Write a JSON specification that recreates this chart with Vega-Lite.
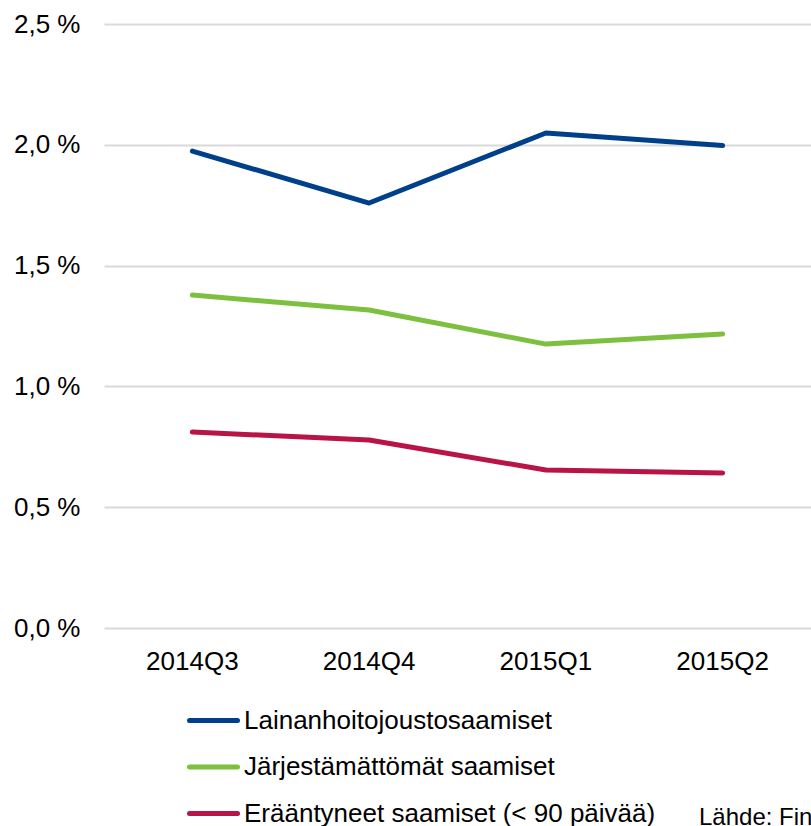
{
  "$schema": "https://vega.github.io/schema/vega-lite/v6.json",
  "width": 707,
  "height": 604,
  "autosize": "none",
  "padding": {"left": 104, "top": 24, "right": 0, "bottom": 198},
  "background": "white",
  "config": {
    "font": "Liberation Sans",
    "view": {"stroke": null}
  },
  "title": {
    "text": "Lähde: Finanssivalvonta",
    "orient": "bottom",
    "anchor": "start",
    "frame": "group",
    "dx": 595,
    "offset": -21,
    "fontSize": 24,
    "fontWeight": "normal",
    "color": "black",
    "font": "Liberation Sans"
  },
  "data": {
    "values": [
      {"quarter": "2014Q3", "series": "Lainanhoitojoustosaamiset", "value": 1.974},
      {"quarter": "2014Q4", "series": "Lainanhoitojoustosaamiset", "value": 1.759},
      {"quarter": "2015Q1", "series": "Lainanhoitojoustosaamiset", "value": 2.049},
      {"quarter": "2015Q2", "series": "Lainanhoitojoustosaamiset", "value": 1.997},
      {"quarter": "2014Q3", "series": "Järjestämättömät saamiset", "value": 1.378},
      {"quarter": "2014Q4", "series": "Järjestämättömät saamiset", "value": 1.316},
      {"quarter": "2015Q1", "series": "Järjestämättömät saamiset", "value": 1.175},
      {"quarter": "2015Q2", "series": "Järjestämättömät saamiset", "value": 1.217},
      {"quarter": "2014Q3", "series": "Erääntyneet saamiset (< 90 päivää)", "value": 0.811},
      {"quarter": "2014Q4", "series": "Erääntyneet saamiset (< 90 päivää)", "value": 0.778},
      {"quarter": "2015Q1", "series": "Erääntyneet saamiset (< 90 päivää)", "value": 0.654},
      {"quarter": "2015Q2", "series": "Erääntyneet saamiset (< 90 päivää)", "value": 0.642}
    ]
  },
  "mark": {"type": "line", "strokeWidth": 5, "strokeCap": "round", "strokeJoin": "round"},
  "encoding": {
    "x": {
      "field": "quarter",
      "type": "ordinal",
      "scale": {"type": "band", "paddingInner": 0, "paddingOuter": 0},
      "axis": {
        "title": null,
        "labelAngle": 0,
        "labelFontSize": 26,
        "labelColor": "black",
        "labelPadding": 20,
        "domain": false,
        "ticks": false,
        "grid": false
      }
    },
    "y": {
      "field": "value",
      "type": "quantitative",
      "scale": {"domain": [0, 2.5], "nice": false, "zero": true},
      "axis": {
        "title": null,
        "values": [0, 0.5, 1, 1.5, 2, 2.5],
        "labelExpr": "replace(format(datum.value, '.1f'), '.', ',') + ' %'",
        "labelFontSize": 26,
        "labelColor": "black",
        "labelPadding": 24,
        "domain": false,
        "ticks": false,
        "grid": true,
        "gridColor": "#d9d9d9",
        "gridWidth": 2
      }
    },
    "color": {
      "field": "series",
      "type": "nominal",
      "sort": ["Lainanhoitojoustosaamiset", "Järjestämättömät saamiset", "Erääntyneet saamiset (< 90 päivää)"],
      "scale": {
        "domain": ["Lainanhoitojoustosaamiset", "Järjestämättömät saamiset", "Erääntyneet saamiset (< 90 päivää)"],
        "range": ["#00408B", "#7DC03F", "#B81446"]
      },
      "legend": {
        "title": null,
        "orient": "none",
        "legendX": 83,
        "legendY": 670,
        "direction": "vertical",
        "symbolType": "stroke",
        "symbolSize": 2304,
        "symbolStrokeWidth": 5,
        "labelFontSize": 26,
        "labelColor": "black",
        "labelLimit": 1000,
        "labelOffset": 4,
        "rowPadding": 6.5,
        "encode": {
          "symbols": {"update": {"strokeCap": {"value": "round"}}}
        }
      }
    }
  }
}
